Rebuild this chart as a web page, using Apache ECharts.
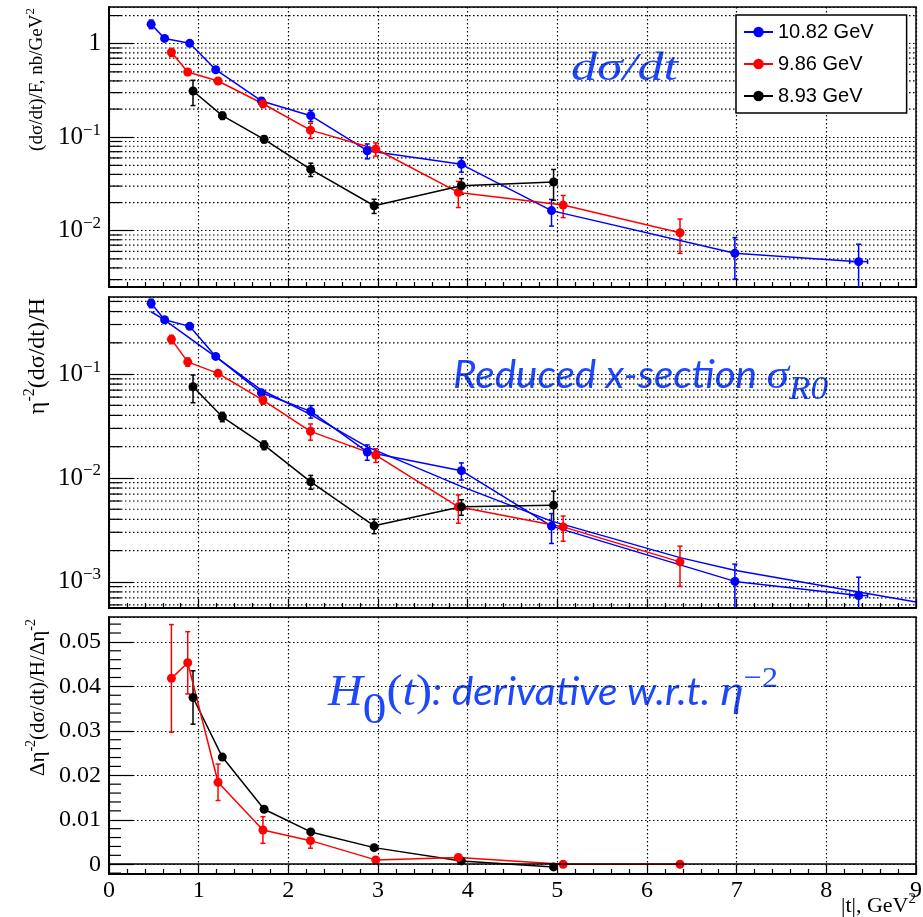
<!DOCTYPE html>
<html><head><meta charset="utf-8">
<script src="https://cdn.jsdelivr.net/npm/echarts@6/dist/echarts.min.js"></script>
<style>html,body{margin:0;padding:0;background:#fff}#c{width:923px;height:917px}</style>
</head><body><div id="c"></div>
<script>
// ---------------- data ----------------
const seriesNames = ['10.82 GeV', '9.86 GeV', '8.93 GeV'];

// |t| positions
const tBlue  = [0.47, 0.62, 0.90, 1.19, 1.70, 2.25, 2.88, 3.93, 4.935, 6.98, 8.36];
const tBlueErr = [0, 0, 0, 0, 0, 0, 0, 0, 0, 0, 0.1];
const tRed   = [0.696, 0.878, 1.216, 1.717, 2.247, 2.975, 3.896, 5.065, 6.368];
const tBlack = [0.937, 1.264, 1.73, 2.25, 2.957, 3.93, 4.958];

// panel 1: (dσ/dt)/F
const dsdtBlue     = [1.62, 1.14, 1.01, 0.527, 0.244, 0.170, 0.0717, 0.0513, 0.0164, 0.00573, 0.00467];
const dsdtBlueErr  = [0.17, 0.04, 0.04, 0.03, 0.019, 0.023, 0.013, 0.009, 0.0052, 0.0027, 0.0025];
const dsdtRed      = [0.81, 0.498, 0.399, 0.228, 0.119, 0.0748, 0.0257, 0.0188, 0.00952];
const dsdtRedErr   = [0.08, 0.04, 0.02, 0.02, 0.022, 0.012, 0.008, 0.005, 0.0038];
const dsdtBlack    = [0.312, 0.17, 0.095, 0.0454, 0.0185, 0.0303, 0.0332];
const dsdtBlackErr = [0.094, 0.015, 0.008, 0.0074, 0.0032, 0.0058, 0.012];

// panel 2: reduced cross-section
const redBlue     = [0.48, 0.333, 0.288, 0.148, 0.066, 0.0437, 0.0178, 0.01175, 0.00344, 0.00101, 0.000738];
const redBlueErr  = [0.045, 0.02, 0.015, 0.008, 0.004, 0.006, 0.003, 0.0022, 0.0011, 0.00047, 0.00037];
const redRed      = [0.216, 0.131, 0.1016, 0.0562, 0.0281, 0.0166, 0.00527, 0.00338, 0.001556];
const redRedErr   = [0.02, 0.012, 0.006, 0.005, 0.005, 0.0025, 0.0016, 0.00092, 0.00065];
const redBlack    = [0.0755, 0.0388, 0.0207, 0.00918, 0.00346, 0.00527, 0.00547];
const redBlackErr = [0.0225, 0.004, 0.002, 0.0014, 0.00055, 0.0009, 0.002];
// second blue curve in panel 2
const fitT    = [0.47, 0.61, 1.186, 1.70, 2.24, 2.88, 3.92, 4.935, 6.368, 6.977, 8.36, 9.0];
const fitBlue = [0.398, 0.336, 0.147, 0.0702, 0.0412, 0.0199, 0.00835, 0.00384, 0.00171, 0.00129, 0.0008, 0.00064];

// panel 3: H0(t)
const h0Red      = [0.0418, 0.0453, 0.01843, 0.0077, 0.0053, 0.00097, 0.0015, 0.0, 0.0];
const h0RedErr   = [0.0121, 0.007, 0.0041, 0.003, 0.0017, 0.0005, 0.0003, 0, 0];
const h0Black    = [0.0375, 0.0241, 0.01236, 0.00726, 0.00373, 0.00074, -0.0006];
const h0BlackErr = [0.006, 0.0004, 0.0003, 0.0002, 0.0002, 0.0002, 0.0002];

// tick labels for log axes, keyed by decade exponent
const logTickLabels = {'0': '{b|1}', '-1': '{b|10}{sup|−1}', '-2': '{b|10}{sup|−2}', '-3': '{b|10}{sup|−3}'};

// ---------------- helpers ----------------
const BLUE = '#0000ff', RED = '#ff0000', BLACK = '#000000', TXTBLUE = '#1e48ff';
const ranges = [[0.0025, 2.47], [0.00056, 0.552], [-0.0022, 0.0556]];
const DOT = {color: '#000', width: 1.2, type: [1.5, 2.5]};

const mctx = document.createElement('canvas').getContext('2d');
function fontStr(p) { return (p.italic ? 'italic ' : '') + p.size + 'px "' + p.family + '"'; }
function buildPieces(pieces, color, startX) {
  const els = []; let x = startX || 0;
  pieces.forEach(p => {
    const f = fontStr(p);
    mctx.font = f; mctx.textBaseline = 'middle';
    const w = mctx.measureText(p.text).width;
    const off = mctx.measureText('H').actualBoundingBoxDescent;
    els.push({type: 'text', x: x + (p.dx || 0), y: (p.dy || 0) - off, silent: true,
      style: {text: p.text, font: f, fill: color, align: 'left', verticalAlign: 'middle'}});
    x += w + (p.dx || 0);
  });
  return {els, width: x - (startX || 0)};
}
function measure(pieces) { return buildPieces(pieces, '#000').width; }
function annot(x0, baseY, pieces, color, targetW) {
  const r = buildPieces(pieces, color);
  return {type: 'group', x: x0, y: baseY, scaleX: targetW ? targetW / r.width : 1, children: r.els, z: 50};
}
function vtitle(baseX, topY, pieces) {
  const W = measure(pieces);
  const r = buildPieces(pieces, '#000', -W);
  return {type: 'group', x: baseX, y: topY, rotation: Math.PI / 2, children: r.els, z: 50};
}

function xAx(i) {
  return {type: 'value', gridIndex: i, min: 0, max: 9, interval: 1,
    axisLine: {show: true, onZero: false, lineStyle: {color: '#000', width: 2}},
    axisTick: {show: true, inside: true, length: 9, lineStyle: {color: '#000', width: 1.2}},
    minorTick: {show: true, splitNumber: 5, length: 5, lineStyle: {color: '#000', width: 1.2}},
    splitLine: {show: true, lineStyle: DOT}, minorSplitLine: {show: false},
    axisLabel: {show: i === 2, color: '#000', fontFamily: 'Liberation Serif', fontSize: 24, margin: 5,
      showMinLabel: true, showMaxLabel: true, hideOverlap: false}};
}
function logLabel(v) {
  const e = Math.log10(v), r = Math.round(e);
  if (Math.abs(e - r) > 1e-6) return '';
  return logTickLabels[String(r === 0 ? 0 : r)] || '';
}
function yLog(i) {
  return {type: 'log', logBase: 10, gridIndex: i, min: ranges[i][0], max: ranges[i][1],
    axisLine: {show: true, onZero: false, lineStyle: {color: '#000', width: 2}},
    axisTick: {show: true, inside: true, length: 24, lineStyle: {color: '#000', width: 1.2}},
    splitLine: {show: true, lineStyle: DOT},
    axisLabel: {color: '#000', margin: 8, showMinLabel: false, showMaxLabel: false, formatter: logLabel,
      rich: {b: {fontFamily: 'Liberation Serif', fontSize: 25, lineHeight: 31, color: '#000'},
             sup: {fontFamily: 'Liberation Serif', fontSize: 17, lineHeight: 16, verticalAlign: 'top', color: '#000'}}}};
}
function yLin(i) {
  return {type: 'value', gridIndex: i, min: ranges[i][0], max: ranges[i][1],
    axisLine: {show: true, onZero: false, lineStyle: {color: '#000', width: 2}},
    axisTick: {show: true, inside: true, length: 24, lineStyle: {color: '#000', width: 1.2}},
    splitLine: {show: true, lineStyle: DOT},
    axisLabel: {color: '#000', fontFamily: 'Liberation Serif', fontSize: 24, margin: 8,
      showMinLabel: false, showMaxLabel: false,
      formatter: v => { const s = v.toFixed(2); return s === '0.00' || s === '-0.00' ? '0' : s; }}};
}

// minor tick values
function logMinors(lo, hi) {
  const out = [];
  for (let k = -5; k <= 1; k++) for (let m = 2; m <= 9; m++) {
    const v = m * Math.pow(10, k); if (v > lo && v < hi) out.push([0, v]);
  }
  return out;
}
function linMinors(lo, hi) {
  const out = [];
  for (let n = -5; n <= 40; n++) { if (n % 5 === 0) continue; const v = n * 0.002; if (v > lo && v < hi) out.push([0, v]); }
  return out;
}
function decoSeries(i, data, withGrid) {
  return {type: 'custom', xAxisIndex: i, yAxisIndex: i, silent: true, z: 1, clip: false, data,
    renderItem: (params, api) => {
      const v = api.value(1);
      const p0 = api.coord([0, v]), p1 = api.coord([9, v]);
      const ch = [{type: 'line', shape: {x1: p0[0], y1: p0[1], x2: p0[0] + 12, y2: p0[1]}, style: {stroke: '#000', lineWidth: 1.2}}];
      if (withGrid) ch.push({type: 'line', shape: {x1: p0[0], y1: p0[1], x2: p1[0], y2: p1[1]},
        style: {stroke: '#000', lineWidth: 1.2, lineDash: [1.5, 2.5]}});
      return {type: 'group', children: ch};
    }};
}
function errSeries(i, name, color, xs, ys, es, xes) {
  const ymin = ranges[i][0], ymax = ranges[i][1];
  return {type: 'custom', name, xAxisIndex: i, yAxisIndex: i, silent: true, z: 3, clip: true,
    data: xs.map((x, k) => [x, ys[k], es[k], xes ? xes[k] : 0]),
    renderItem: (params, api) => {
      const x = api.value(0), y = api.value(1), e = api.value(2), xe = api.value(3);
      const ch = [];
      const st = {stroke: color, lineWidth: 1.5};
      if (e > 0) {
        const lo = Math.max(y - e, ymin), hi = Math.min(y + e, ymax);
        const a = api.coord([x, lo]), b = api.coord([x, hi]);
        ch.push({type: 'line', shape: {x1: a[0], y1: a[1], x2: b[0], y2: b[1]}, style: st});
        if (y - e > ymin) ch.push({type: 'line', shape: {x1: a[0] - 2.5, y1: a[1], x2: a[0] + 2.5, y2: a[1]}, style: st});
        if (y + e < ymax) ch.push({type: 'line', shape: {x1: b[0] - 2.5, y1: b[1], x2: b[0] + 2.5, y2: b[1]}, style: st});
      }
      if (xe > 0) {
        const a = api.coord([x - xe, y]), b = api.coord([x + xe, y]);
        ch.push({type: 'line', shape: {x1: a[0], y1: a[1], x2: b[0], y2: b[1]}, style: st});
        ch.push({type: 'line', shape: {x1: a[0], y1: a[1] - 2.5, x2: a[0], y2: a[1] + 2.5}, style: st});
        ch.push({type: 'line', shape: {x1: b[0], y1: b[1] - 2.5, x2: b[0], y2: b[1] + 2.5}, style: st});
      }
      return {type: 'group', children: ch};
    }};
}
function lineSeries(i, name, color, xs, ys, extra) {
  return Object.assign({type: 'line', name, xAxisIndex: i, yAxisIndex: i, z: 4,
    data: xs.map((x, k) => [x, ys[k]]), symbol: 'circle', symbolSize: 9, showSymbol: true,
    itemStyle: {color}, lineStyle: {color, width: 1.5}, emphasis: {disabled: true}, animation: false}, extra || {});
}

// ---------------- option ----------------
const grids = [
  {left: 109, right: 7, top: 7, height: 280},
  {left: 109, right: 7, top: 297, height: 311},
  {left: 109, right: 7, top: 617, height: 257}
].map(g => Object.assign(g, {show: true, borderColor: '#000', borderWidth: 1.5, backgroundColor: 'transparent',
  containLabel: false, outerBoundsMode: 'none'}));

const series = [
  decoSeries(0, logMinors(ranges[0][0], ranges[0][1]), true),
  decoSeries(1, logMinors(ranges[1][0], ranges[1][1]), true),
  decoSeries(2, linMinors(ranges[2][0], ranges[2][1]), false),
  // panel 1
  errSeries(0, 'e1b', BLUE, tBlue, dsdtBlue, dsdtBlueErr, tBlueErr),
  errSeries(0, 'e1r', RED, tRed, dsdtRed, dsdtRedErr),
  errSeries(0, 'e1k', BLACK, tBlack, dsdtBlack, dsdtBlackErr),
  lineSeries(0, seriesNames[0], BLUE, tBlue, dsdtBlue),
  lineSeries(0, seriesNames[1], RED, tRed, dsdtRed),
  lineSeries(0, seriesNames[2], BLACK, tBlack, dsdtBlack),
  // panel 2
  errSeries(1, 'e2b', BLUE, tBlue, redBlue, redBlueErr, tBlueErr),
  errSeries(1, 'e2r', RED, tRed, redRed, redRedErr),
  errSeries(1, 'e2k', BLACK, tBlack, redBlack, redBlackErr),
  lineSeries(1, 'curve', BLUE, fitT, fitBlue, {showSymbol: false, symbol: 'none'}),
  lineSeries(1, seriesNames[0], BLUE, tBlue, redBlue),
  lineSeries(1, seriesNames[1], RED, tRed, redRed),
  lineSeries(1, seriesNames[2], BLACK, tBlack, redBlack),
  // panel 3
  errSeries(2, 'e3r', RED, tRed, h0Red, h0RedErr),
  errSeries(2, 'e3k', BLACK, tBlack, h0Black, h0BlackErr),
  lineSeries(2, seriesNames[2], BLACK, tBlack, h0Black, {
    markLine: {silent: true, symbol: 'none', label: {show: false}, animation: false,
      lineStyle: {color: '#000', type: 'solid', width: 1.5}, data: [{yAxis: 0}]}}),
  lineSeries(2, seriesNames[1], RED, tRed, h0Red)
];

const serif = 'Liberation Serif';
const graphic = [
  vtitle(42, 8, [{text: '(dσ/dt)/F, nb/GeV', family: serif, size: 19}, {text: '2', family: serif, size: 13, dy: -8}]),
  vtitle(44, 298, [{text: 'η', family: serif, size: 24}, {text: '-2', family: serif, size: 16, dy: -10},
                   {text: '(dσ/dt)/H', family: serif, size: 24}]),
  vtitle(44, 619, [{text: 'Δη', family: serif, size: 21}, {text: '-2', family: serif, size: 14, dy: -9},
                   {text: '(dσ/dt)/H/Δη', family: serif, size: 21}, {text: '-2', family: serif, size: 14, dy: -9}]),
  // x axis title
  (function () {
    const p = [{text: '|t|, GeV', family: serif, size: 22}, {text: '2', family: serif, size: 15, dy: -9}];
    return annot(916 - measure(p), 912, p, '#000');
  })(),
  annot(571, 80, [{text: 'dσ/dt', family: serif, size: 41, italic: true}], TXTBLUE, 107),
  annot(453, 388, [{text: 'Reduced x-section ', family: 'Lato', size: 38, italic: true},
                   {text: 'σ', family: serif, size: 43, italic: true},
                   {text: 'R0', family: serif, size: 33, italic: true, dy: 11}], TXTBLUE, 375),
  annot(328, 705, [{text: 'H', family: serif, size: 45, italic: true},
                   {text: '0', family: serif, size: 44, dy: 18},
                   {text: '(', family: serif, size: 45},
                   {text: 't', family: serif, size: 45, italic: true},
                   {text: ')', family: serif, size: 45},
                   {text: ': derivative w.r.t. ', family: 'Lato', size: 38, italic: true},
                   {text: 'η', family: serif, size: 45, italic: true},
                   {text: '−2', family: serif, size: 30, dy: -18}], TXTBLUE, 450)
];

const option = {
  animation: false,
  backgroundColor: '#fff',
  grid: grids,
  xAxis: [xAx(0), xAx(1), xAx(2)],
  yAxis: [yLog(0), yLog(1), yLin(2)],
  legend: {data: seriesNames, orient: 'vertical', left: 736, top: 15, itemWidth: 29, itemHeight: 13, itemGap: 12,
    padding: [7, 33, 7, 7], backgroundColor: '#fff', borderColor: '#000', borderWidth: 1.5, borderRadius: 0,
    selectedMode: false, z: 20,
    textStyle: {fontFamily: 'Liberation Sans', fontSize: 20, color: '#000'}},
  series,
  graphic
};
const chart = echarts.init(document.getElementById('c'), null, {renderer: 'canvas', width: 923, height: 917});
chart.setOption(option);
</script>
</body></html>
